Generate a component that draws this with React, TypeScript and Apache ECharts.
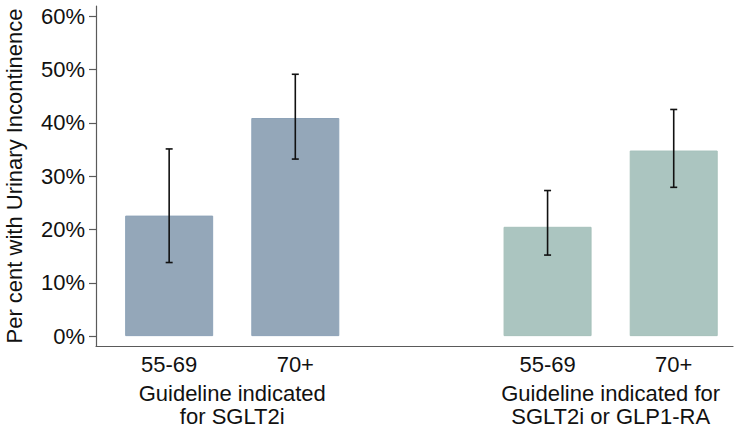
import React, { useEffect, useRef } from "react";
import * as echarts from "echarts";

const categories = ["55-69", "70+", "55-69", "70+"];
const positions = [1, 2, 4, 5];
const groupLabels = ["Guideline indicated\nfor SGLT2i", "Guideline indicated for\nSGLT2i or GLP1-RA"];
const groupPositions = [1.5, 4.5];
const values = [22.6, 40.9, 20.5, 34.8];
const lower = [13.8, 33.2, 15.2, 27.9];
const upper = [35.1, 49.1, 27.3, 42.5];
const yTicks = [0, 10, 20, 30, 40, 50, 60];
const barColors = ["#94a7b9", "#94a7b9", "#abc5c0", "#abc5c0"];
const barBorders = ["#8ea3b8", "#8ea3b8", "#a6c1bb", "#a6c1bb"];

const FONT = "'Liberation Sans', Arial, Helvetica, sans-serif";

export default function App() {
  const ref = useRef<HTMLDivElement>(null);
  useEffect(() => {
    if (!ref.current) return;
    const chart = echarts.init(ref.current, null, { renderer: "svg" });
    const catMap: Record<string, string> = {};
    positions.forEach((p, i) => (catMap[String(p)] = categories[i]));
    const grpMap: Record<string, string> = {};
    groupPositions.forEach((p, i) => (grpMap[String(p)] = groupLabels[i]));

    chart.setOption({
      animation: false,
      backgroundColor: "#ffffff",
      textStyle: { fontFamily: FONT },
      grid: { left: 96, right: 2, top: 6, bottom: 87, containLabel: false, outerBoundsMode: "none" },
      xAxis: [
        {
          type: "value",
          min: 0.42,
          max: 5.47,
          position: "bottom",
          splitLine: { show: false },
          axisTick: { show: false },
          axisLine: { show: true, onZero: false, lineStyle: { color: "#5a5a5a", width: 1.2 } },
          axisLabel: {
            customValues: positions,
            formatter: (v: number) => catMap[String(v)] ?? "",
            fontSize: 22,
            color: "#111",
            margin: 7,
            fontFamily: FONT,
          },
        },
        {
          type: "value",
          min: 0.42,
          max: 5.47,
          position: "bottom",
          splitLine: { show: false },
          axisTick: { show: false },
          axisLine: { show: false },
          axisLabel: {
            customValues: groupPositions,
            formatter: (v: number) => grpMap[String(v)] ?? "",
            fontSize: 22,
            lineHeight: 23,
            color: "#111",
            margin: 36,
            fontFamily: FONT,
            align: "center",
          },
        },
      ],
      yAxis: {
        type: "value",
        min: -1.85,
        max: 61.9,
        name: "Per cent with Urinary Incontinence",
        nameLocation: "middle",
        nameGap: 71,
        nameTextStyle: { fontSize: 22, color: "#111", fontFamily: FONT },
        splitLine: { show: false },
        axisLine: { show: true, onZero: false, lineStyle: { color: "#5a5a5a", width: 1.2 } },
        axisTick: { show: true, length: 7, customValues: yTicks, lineStyle: { color: "#5a5a5a", width: 1.2 } },
        axisLabel: {
          customValues: yTicks,
          formatter: (v: number) => `${v}%`,
          fontSize: 22,
          color: "#111",
          margin: 11,
          fontFamily: FONT,
        },
      },
      series: [
        {
          type: "bar",
          xAxisIndex: 0,
          barWidth: 88,
          data: positions.map((p, i) => ({
            value: [p, values[i]],
            itemStyle: { color: barColors[i], borderColor: barBorders[i], borderWidth: 1 },
          })),
        },
        {
          type: "custom",
          xAxisIndex: 0,
          data: positions.map((p, i) => [p, lower[i], upper[i]]),
          renderItem: (params: any, api: any) => {
            const x = api.value(0);
            const lo = api.coord([x, api.value(1)]);
            const hi = api.coord([x, api.value(2)]);
            const hw = 3.5;
            const style = { stroke: "#111", lineWidth: 1.6 };
            return {
              type: "group",
              children: [
                { type: "line", shape: { x1: lo[0], y1: lo[1], x2: hi[0], y2: hi[1] }, style },
                { type: "line", shape: { x1: hi[0] - hw, y1: hi[1], x2: hi[0] + hw, y2: hi[1] }, style },
                { type: "line", shape: { x1: lo[0] - hw, y1: lo[1], x2: lo[0] + hw, y2: lo[1] }, style },
              ],
            };
          },
          z: 5,
        },
      ],
    });
    return () => chart.dispose();
  }, []);
  return (
    <div
      ref={ref}
      style={{ position: "fixed", left: 0, top: 0, width: 735, height: 433, background: "#fff" }}
    />
  );
}
